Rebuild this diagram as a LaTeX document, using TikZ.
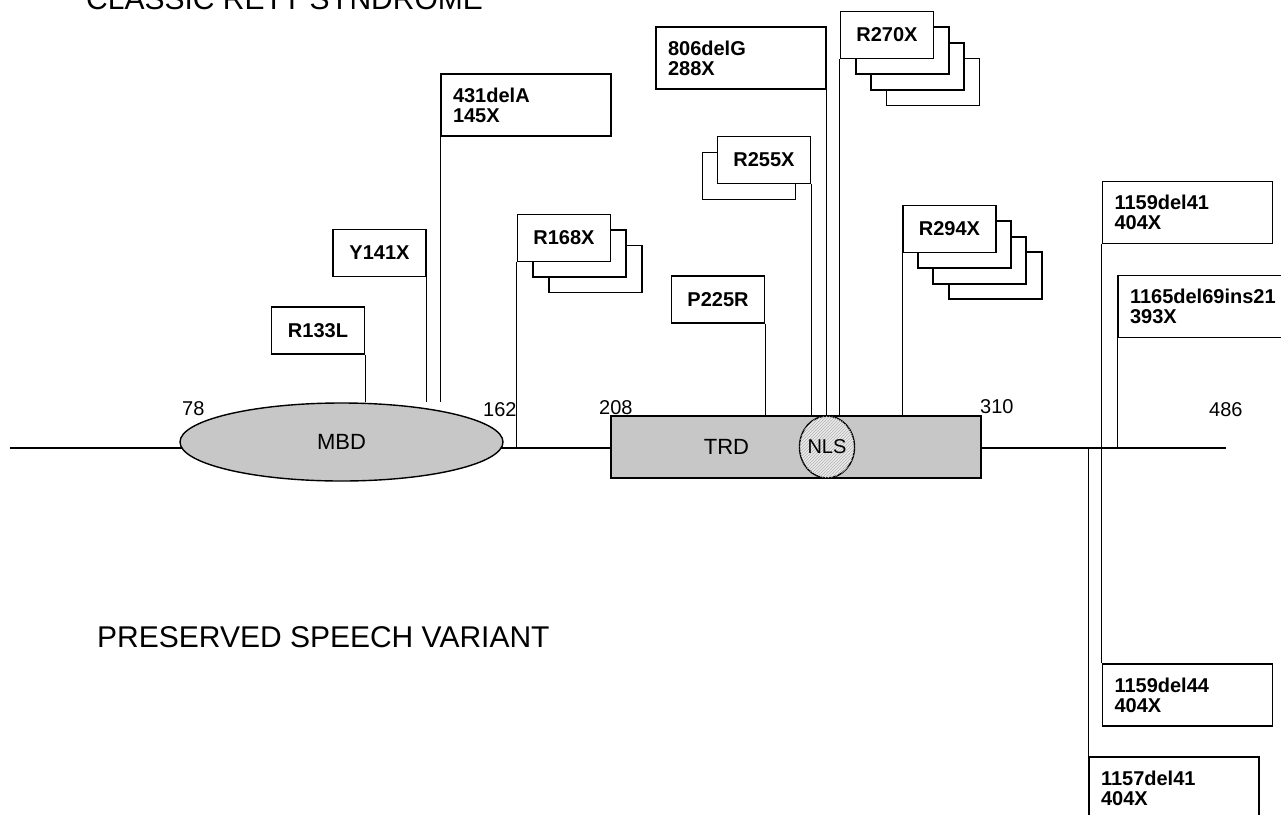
\documentclass[tikz,border=0pt]{standalone}
\usepackage{fontspec}
\setmainfont{Liberation Sans}
\usetikzlibrary{shapes.geometric,patterns}
\pgfdeclarelayer{bg}
\pgfsetlayers{bg,main}
\begin{document}
\begin{tikzpicture}[x=1pt,y=-1pt,
  mbox/.style={draw, line width=1.5pt, fill=white, inner sep=0pt, minimum width=93pt, minimum height=47pt, font=\fontsize{20}{20}\selectfont\bfseries},
  shad/.style={draw, line width=1.5pt, fill=white, inner sep=0pt, minimum width=93pt, minimum height=47pt},
  tbox/.style={draw, line width=1.5pt, fill=white, inner sep=0pt, minimum width=170pt, minimum height=62pt, text width=146pt, align=left, font=\fontsize{20}{20}\selectfont\bfseries},
  stem/.style={line width=1.2pt},
  num/.style={font=\fontsize{20}{20}\selectfont, inner sep=0pt, anchor=base west},
  big/.style={font=\fontsize{30}{30}\selectfont, inner sep=0pt, anchor=base west},
  dom/.style={draw, line width=1.4pt, fill=black!22, inner sep=0pt}
]
\useasboundingbox (0,0) rectangle (1281,814);

% titles
\node[big] (title1) at (86,9) {CLASSIC RETT SYNDROME};
\node[big] (title2) at (97,647) {PRESERVED SPEECH VARIANT};

% domains
\coordinate (lstart) at (10,448);
\coordinate (lend) at (1226,448);
\node[dom, ellipse, minimum width=323pt, minimum height=78pt, font=\fontsize{22}{22}\selectfont] (mbd) at (341.5,442) {MBD};
\node[dom, rectangle, minimum width=370pt, minimum height=62pt] (trd) at (796,447) {};
\node[font=\fontsize{22}{22}\selectfont, inner sep=0pt] (trdlab) at (726.5,447) {TRD};
\node[draw, line width=1.4pt, ellipse, fill=black!8, postaction={pattern=north east lines, pattern color=black!30}, minimum width=46pt, minimum height=62pt, inner sep=0pt, font=\fontsize{20}{20}\selectfont] (nls) at (827,447) {NLS};

% position numbers
\node[num] (n78) at (182,415) {78};
\node[num] (n162) at (483,416) {162};
\node[num] (n208) at (599,414) {208};
\node[num] (n310) at (980,413) {310};
\node[num] (n486) at (1209,416) {486};

% mutation boxes
\node[mbox] (r133) at (318,330.5) {R133L};
\node[mbox] (y141) at (379.5,253) {Y141X};
\node[tbox] (b431) at (526,105) {431delA\\145X};

\node[shad] (r168c) at (595.5,269) {};
\node[shad] (r168b) at (579.5,253.5) {};
\node[mbox] (r168) at (564,238) {R168X};

\node[mbox] (p225) at (718,299.5) {P225R};

\node[shad] (r255b) at (749,176) {};
\node[mbox] (r255) at (764,160) {R255X};

\node[tbox] (b806) at (741,58) {806delG\\288X};

\node[shad] (r270d) at (933,82) {};
\node[shad] (r270c) at (917.6,66.4) {};
\node[shad] (r270b) at (902.3,50.7) {};
\node[mbox] (r270) at (887,35) {R270X};

\node[shad] (r294d) at (995.5,275.5) {};
\node[shad] (r294c) at (979.5,260.5) {};
\node[shad] (r294b) at (964.5,244.5) {};
\node[mbox] (r294) at (949.5,229) {R294X};

\node[tbox] (b1159a) at (1187.5,212.5) {1159del41\\404X};
\node[tbox] (b1165) at (1203,306.5) {1165del69ins21\\393X};
\node[tbox] (b1159b) at (1187.5,695) {1159del44\\404X};
\node[tbox] (b1157) at (1174,788) {1157del41\\404X};

\begin{pgfonlayer}{bg}
\draw[stem] (lstart) -- (lend);
\draw[stem] (r133.south east) -- (r133.south east |- mbd.north);
\draw[stem] (y141.south east) -- (y141.south east |- mbd.north);
\draw[stem] (b431.south west) -- (b431.south west |- mbd.north);
\draw[stem] (r168.south west) -- (r168.south west |- lstart);
\draw[stem] (p225.south east) -- (p225.south east |- trd.north);
\draw[stem] (r255.south east) -- (r255.south east |- trd.north);
\draw[stem] (b806.south east) -- (b806.south east |- trd.north);
\draw[stem] (r270.south west) -- (r270.south west |- trd.north);
\draw[stem] (r294.south west) -- (r294.south west |- trd.north);
\draw[stem] (b1159a.south west) -- (b1159a.south west |- lend);
\draw[stem] (b1165.south west) -- (b1165.south west |- lend);
\draw[stem] (b1159b.north west) -- (b1159b.north west |- lend);
\draw[stem] (b1157.north west) -- (b1157.north west |- lend);
\end{pgfonlayer}
\end{tikzpicture}
\end{document}
